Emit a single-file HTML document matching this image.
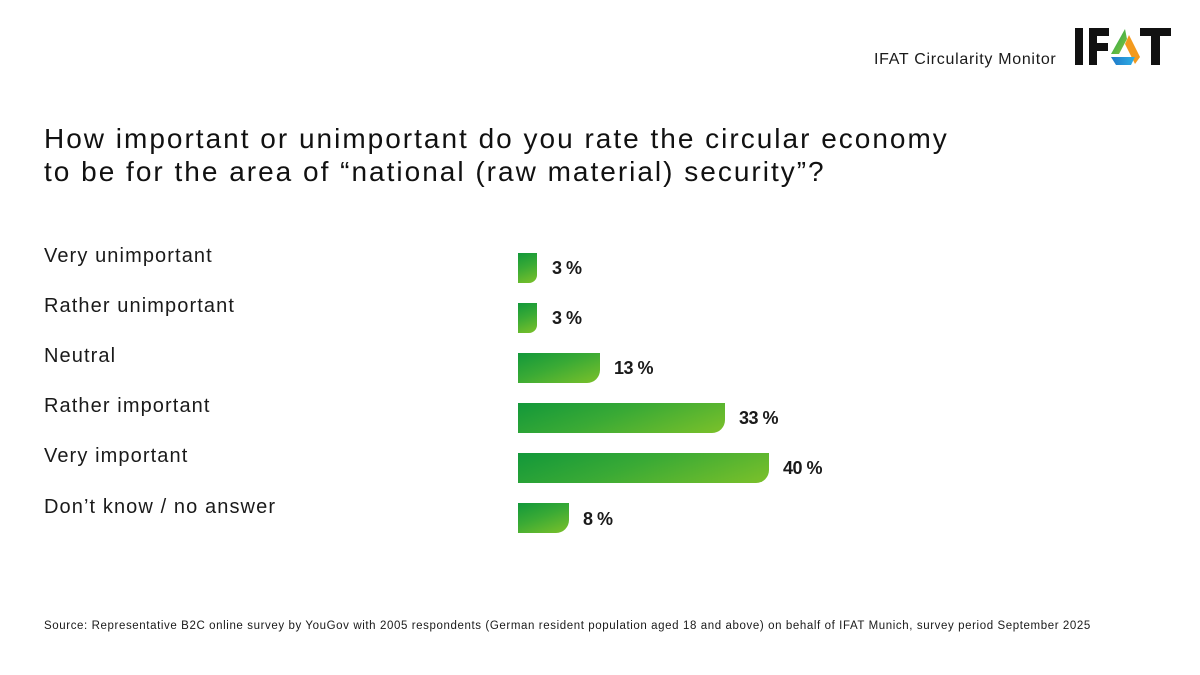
<!DOCTYPE html>
<html><head><meta charset="utf-8"><style>
body{margin:0;width:1200px;height:675px;background:#fff;font-family:"Liberation Sans",sans-serif;color:#1a1a1a;position:relative;overflow:hidden}
.a{position:absolute;white-space:nowrap}
.bar{position:absolute;left:518px;height:30px;border-radius:0 0 13px 0;background:linear-gradient(160deg,#12983a 0%,#3aaa35 45%,#7cc12a 100%)}
.lab{position:absolute;left:44px;font-size:20px;letter-spacing:1.1px}
.v{position:absolute;font-size:18px;font-weight:bold;letter-spacing:-0.5px}
</style></head><body>
<div class="a" style="left:874px;top:51px;font-size:16px;letter-spacing:0.7px">IFAT Circularity Monitor</div>
<svg class="a" style="left:1072px;top:26px" width="102" height="42" viewBox="0 0 102 42">
<defs><linearGradient id="g1" x1="0" y1="0" x2="1" y2="1"><stop offset="0" stop-color="#1aa34a"/><stop offset="1" stop-color="#8cc63f"/></linearGradient>
<linearGradient id="g2" x1="0" y1="0" x2="1" y2="0"><stop offset="0" stop-color="#1f78c8"/><stop offset="1" stop-color="#2fb0e6"/></linearGradient></defs>
<rect x="3" y="2" width="8" height="37" fill="#111"/>
<path d="M17 2h20v8H25v7h11v8H25v14h-8z" fill="#111"/>
<path d="M53 3 L39 28 L47 28 L55 13z" fill="url(#g1)"/>
<path d="M57 9 L68 31 L63 38 L53 18z" fill="#f39a1e"/>
<path d="M39 31 L63 31 L59 39 L44 39z" fill="url(#g2)"/>
<path d="M68 2h31v8H88v29h-9V10H68z" fill="#111"/>
</svg>
<div class="a" style="left:44px;top:122px;font-size:28px;line-height:33px;color:#111;letter-spacing:2px">How important or unimportant do you rate the circular economy<br>to be for the area of “national (raw material) security”?</div>
<div class="lab" style="top:245px">Very unimportant</div>
<div class="lab" style="top:295px">Rather unimportant</div>
<div class="lab" style="top:345px">Neutral</div>
<div class="lab" style="top:395px">Rather important</div>
<div class="lab" style="top:445px">Very important</div>
<div class="lab" style="top:496px">Don’t know / no answer</div>
<div class="bar" style="top:253px;width:19px;border-radius:0 0 8px 0"></div><div class="v" style="left:552px;top:258px">3 %</div>
<div class="bar" style="top:303px;width:19px;border-radius:0 0 8px 0"></div><div class="v" style="left:552px;top:308px">3 %</div>
<div class="bar" style="top:353px;width:82px"></div><div class="v" style="left:614px;top:358px">13 %</div>
<div class="bar" style="top:403px;width:207px"></div><div class="v" style="left:739px;top:408px">33 %</div>
<div class="bar" style="top:453px;width:251px"></div><div class="v" style="left:783px;top:458px">40 %</div>
<div class="bar" style="top:503px;width:51px"></div><div class="v" style="left:583px;top:509px">8 %</div>
<div class="a" style="left:44px;top:620px;font-size:11.5px;letter-spacing:0.6px">Source: Representative B2C online survey by YouGov with 2005 respondents (German resident population aged 18 and above) on behalf of IFAT Munich, survey period September 2025</div>
</body></html>
